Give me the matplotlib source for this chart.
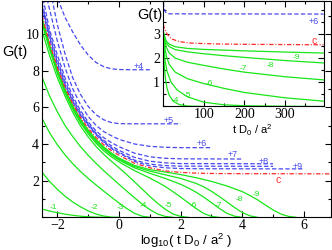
import numpy as np
import matplotlib.pyplot as plt
from matplotlib.ticker import MultipleLocator

plt.rcParams['font.family'] = ['Liberation Sans', 'DejaVu Sans']
plt.rcParams['mathtext.fontset'] = 'custom'
plt.rcParams['mathtext.rm'] = 'Liberation Sans'
plt.rcParams['mathtext.it'] = 'Liberation Sans:italic'

GREEN = '#18e618'
BLUE = '#4848f0'
RED = '#ff2a2a'

# ---- main panel: G(t) vs log10(t D0/a^2) ----
xq = [-2.5, -2.25, -2.0, -1.75, -1.5, -1.25, -1.0, -0.75, -0.5, -0.25, 0.0]

m1_x = [-2.5, -2.25, -2.0, -1.75, -1.5, -1.25, -1.0, -0.75, -0.5]
m1_g = [0.45, 0.34, 0.25, 0.17, 0.11, 0.06, 0.03, 0.01, 0.0]
m2_x = xq
m2_g = [2.46, 1.95, 1.52, 1.15, 0.83, 0.57, 0.35, 0.18, 0.07, 0.01, 0.0]
m3_x = xq + [0.25, 0.5, 0.75, 1.0]
m3_g = [5.4, 4.6, 3.95, 3.4, 2.92, 2.5, 2.12, 1.77, 1.43, 1.1, 0.78, 0.48, 0.22, 0.06, 0.0]
m4_x = xq + [0.25, 0.5, 0.75, 1.0, 1.25, 1.5, 1.75]
m4_g = [7.65, 6.6, 5.75, 5.0, 4.4, 3.85, 3.38, 2.95, 2.55, 2.17, 1.8, 1.43, 1.07, 0.72,
        0.42, 0.18, 0.05, 0.0]
m5_x = xq + [0.25, 0.5, 0.75, 1.0, 1.25, 1.5, 1.75, 2.0, 2.25]
m5_g = [10.2, 8.8, 7.6, 6.6, 5.72, 4.98, 4.38, 3.87, 3.44, 3.06, 2.7, 2.33, 1.94, 1.54,
        1.14, 0.77, 0.44, 0.18, 0.05, 0.0]
m6_x = xq + [0.5, 1.0, 1.25, 1.5, 1.75, 2.0, 2.25, 2.5, 2.75, 3.0, 3.25]
m6_g = [10.6, 9.12, 7.84, 6.77, 5.89, 5.15, 4.55, 4.05, 3.63, 3.3, 3.02, 2.55, 2.14, 1.92,
        1.68, 1.4, 1.1, 0.79, 0.48, 0.21, 0.05, 0.0]
m7_x = xq + [0.5, 1.0, 1.5, 2.0, 2.25, 2.5, 2.75, 3.0, 3.25, 3.5, 3.75, 4.0]
m7_g = [10.75, 9.25, 7.95, 6.87, 5.98, 5.24, 4.64, 4.14, 3.73, 3.4, 3.12, 2.7, 2.4, 2.12,
        1.8, 1.6, 1.37, 1.1, 0.8, 0.49, 0.22, 0.06, 0.0]
m8_x = xq + [0.5, 1.0, 1.5, 2.0, 2.5, 2.75, 3.0, 3.25, 3.5, 3.75, 4.0, 4.25, 4.5]
m8_g = [10.85, 9.33, 8.01, 6.93, 6.04, 5.3, 4.7, 4.2, 3.79, 3.46, 3.18, 2.77, 2.52, 2.32,
        2.12, 1.85, 1.66, 1.42, 1.14, 0.84, 0.53, 0.26, 0.08, 0.0]
m9_x = xq + [0.5, 1.0, 1.5, 2.0, 2.5, 3.0, 3.5, 4.0, 4.25, 4.5, 4.75, 5.0, 5.25, 5.5, 5.75]
m9_g = [10.9, 9.38, 8.06, 6.98, 6.09, 5.35, 4.75, 4.25, 3.84, 3.51, 3.23, 2.83, 2.6, 2.47,
        2.33, 2.16, 1.96, 1.71, 1.4, 1.19, 0.95, 0.67, 0.4, 0.18, 0.05, 0.0]

p4_x = [-2.1, -1.96, -1.75, -1.5, -1.25, -1.0, -0.75, -0.5, -0.25, 0.0, 0.5, 1.0]
p4_g = [12.6, 11.8, 10.9, 10.1, 9.4, 8.85, 8.45, 8.22, 8.1, 8.06, 8.05, 8.05]
p5_x = [-2.3, -2.16, -2.0, -1.75, -1.5, -1.25, -1.0, -0.75, -0.5, -0.25, 0.0, 0.5, 2.0]
p5_g = [12.8, 11.8, 10.5, 8.9, 7.6, 6.7, 6.05, 5.6, 5.32, 5.17, 5.11, 5.1, 5.1]
p6_x = [-2.45, -2.32, -2.0, -1.75, -1.5, -1.25, -1.0, -0.75, -0.5, -0.25, 0.0, 0.5, 1.0,
        1.5, 2.0, 2.97]
p6_g = [12.8, 11.8, 9.6, 8.15, 7.0, 6.15, 5.5, 5.02, 4.68, 4.45, 4.25, 4.0, 3.87, 3.82,
        3.8, 3.8]
p7_x = [-2.5, -2.45, -2.25, -2.0, -1.75, -1.5, -1.25, -1.0, -0.75, -0.5, -0.25, 0.0, 0.5,
        1.0, 1.5, 2.0, 4.0]
p7_g = [12.1, 11.8, 10.2, 8.85, 7.6, 6.6, 5.82, 5.2, 4.72, 4.35, 4.08, 3.85, 3.5, 3.3,
        3.22, 3.19, 3.18]
pb_x = xq + [0.5, 1.0, 1.5, 2.0, 5.0]
p8_g = [11.7, 10.0, 8.6, 7.4, 6.45, 5.7, 5.1, 4.6, 4.2, 3.9, 3.65, 3.27, 3.06, 2.97, 2.93, 2.92]
p8b_g = [11.55, 9.85, 8.45, 7.25, 6.35, 5.6, 5.05, 4.55, 4.13, 3.8, 3.55, 3.12, 2.9, 2.82,
         2.79, 2.78]
p9_x = xq + [0.5, 1.0, 1.5, 2.0, 2.5, 5.95]
p9_g = [11.4, 9.7, 8.3, 7.15, 6.28, 5.55, 5.0, 4.5, 4.08, 3.75, 3.5, 3.05, 2.8, 2.7, 2.66,
        2.65, 2.64]

c_x = xq + [0.5, 1.0, 1.5, 2.0, 2.5, 3.0, 4.0, 7.0]
c_g = [11.0, 9.48, 8.15, 7.07, 6.18, 5.44, 4.85, 4.36, 3.96, 3.64, 3.38, 2.95, 2.7, 2.53,
       2.45, 2.41, 2.39, 2.38, 2.37]

green_labels = ['-1', '-2', '-3', '-4', '-5', '-6', '-7', '-8', '-9']
green_lab_x = [-2.13, -0.8, 0.03, 0.8, 1.6, 2.42, 3.23, 3.92, 4.46]
green_lab_y = [0.56, 0.56, 0.56, 0.62, 0.67, 0.62, 0.62, 0.95, 1.27]
blue_labels = ['+4', '+5', '+6', '+7', '+8', '+9']
blue_lab_x = [0.64, 1.62, 2.7, 3.68, 4.7, 5.79]
blue_lab_y = [8.23, 5.28, 4.04, 3.4, 3.04, 2.77]

# ---- inset: G(t) vs t D0/a^2 (linear) ----
i4_t = [1, 3, 6, 10, 15, 25, 40, 60, 100]
i4_g = [2.6, 1.7, 1.15, 0.75, 0.48, 0.22, 0.08, 0.02, 0.0]
i5_t = [1, 2, 5, 10, 20, 35, 60, 100, 150, 200, 300, 395]
i5_g = [2.8, 2.5, 1.9, 1.45, 1.0, 0.68, 0.4, 0.18, 0.07, 0.03, 0.01, 0.0]
i_t = [1, 3, 8, 15, 30, 60, 100, 150, 200, 300, 395]
i6_g = [2.95, 2.6, 2.1, 1.75, 1.42, 1.15, 0.95, 0.75, 0.58, 0.36, 0.22]
i7_g = [3.0, 2.8, 2.45, 2.22, 2.0, 1.83, 1.7, 1.55, 1.42, 1.23, 1.1]
i8_g = [3.05, 2.9, 2.62, 2.48, 2.35, 2.26, 2.18, 2.1, 2.03, 1.9, 1.8]
i9_g = [3.1, 2.95, 2.7, 2.58, 2.47, 2.4, 2.36, 2.33, 2.3, 2.25, 2.21]
ic_t = [1, 2, 10, 20, 40, 70, 100, 150, 200, 300, 395]
ic_g = [3.4, 3.3, 3.0, 2.8, 2.68, 2.62, 2.6, 2.58, 2.57, 2.56, 2.55]
i6p_t = [1, 2, 6, 15, 395]
i6p_g = [4.3, 4.1, 3.9, 3.83, 3.82]

in_labels = ['-4', '-5', '-6', '-7', '-8', '-9']
in_lab_t = [30, 59, 113, 197, 265, 329]
in_lab_g = [0.25, 0.45, 0.96, 1.56, 1.69, 2.04]

fig = plt.figure(figsize=(3.32, 2.5), dpi=100)
ax = fig.add_axes([42 / 332, 1 - 217.3 / 250, 289 / 332, 216.3 / 250])

lw = 0.9
greens = [(m1_x, m1_g), (m2_x, m2_g), (m3_x, m3_g), (m4_x, m4_g), (m5_x, m5_g),
          (m6_x, m6_g), (m7_x, m7_g), (m8_x, m8_g), (m9_x, m9_g)]
for gx, gy in greens:
    ax.plot(gx, gy, color=GREEN, lw=lw)

blues = [(p4_x, p4_g), (p5_x, p5_g), (p6_x, p6_g), (p7_x, p7_g), (pb_x, p8_g),
         (pb_x, p8b_g), (p9_x, p9_g)]
for bx, by in blues:
    ax.plot(bx, by, color=BLUE, lw=lw, ls=(0, (3.5, 1.8)))
ax.plot(c_x, c_g, color=RED, lw=lw, ls=(0, (3.5, 1.4, 0.8, 1.4)))

for s, lx, ly in zip(green_labels, green_lab_x, green_lab_y):
    ax.text(lx, ly, s, color=GREEN, fontsize=6, ha='center', va='center')
for s, lx, ly in zip(blue_labels, blue_lab_x, blue_lab_y):
    ax.text(lx, ly, s, color=BLUE, fontsize=6.5, ha='center', va='center')
ax.text(5.16, 2.04, 'c', color=RED, fontsize=7.5, ha='center', va='center')

ax.set_xlim(-2.5, 6.88)
ax.set_ylim(0, 11.8)
ax.xaxis.set_major_locator(MultipleLocator(2))
ax.xaxis.set_minor_locator(MultipleLocator(1))
ax.set_yticks([2, 4, 6, 8, 10])
ax.yaxis.set_minor_locator(MultipleLocator(1))
ax.tick_params(which='both', direction='in', top=True, right=True, width=0.8)
ax.tick_params(which='major', length=4, pad=2)
ax.tick_params(axis='x', which='major', pad=1)
ax.tick_params(which='minor', length=2)
for lab in ax.get_xticklabels() + ax.get_yticklabels():
    lab.set_fontfamily('Liberation Serif')
    lab.set_fontsize(10)
fig.text(15 / 332, 1 - 52 / 250, 'G(t)', fontsize=10.5, ha='center', va='center')
fig.text(186 / 332, 1 - 241.3 / 250, r'log$_{10}$( t D$_0$ / a$^2$ )', fontsize=9.5,
         ha='center', va='center')

# inset
ins = fig.add_axes([163 / 332, 1 - 106.5 / 250, 160.5 / 332, 105.5 / 250])
for it, ig in [(i4_t, i4_g), (i5_t, i5_g), (i_t, i6_g), (i_t, i7_g), (i_t, i8_g), (i_t, i9_g)]:
    ins.plot(it, ig, color=GREEN, lw=lw)
ins.plot(i6p_t, i6p_g, color=BLUE, lw=lw, ls=(0, (3.5, 1.8)))
ins.plot(ic_t, ic_g, color=RED, lw=lw, ls=(0, (3.5, 1.4, 0.8, 1.4)))
for s, lx, ly in zip(in_labels, in_lab_t, in_lab_g):
    ins.text(lx, ly, s, color=GREEN, fontsize=6, ha='center', va='center')
ins.text(370, 3.52, '+6', color=BLUE, fontsize=6.5, ha='center', va='center')
ins.text(373, 2.7, 'c', color=RED, fontsize=7.5, ha='center', va='center')

ins.set_xlim(0, 395)
ins.set_ylim(0, 4.36)
ins.set_xticks([100, 200, 300])
ins.xaxis.set_minor_locator(MultipleLocator(50))
ins.set_yticks([1, 2, 3])
ins.yaxis.set_minor_locator(MultipleLocator(0.5))
ins.tick_params(which='both', direction='in', top=True, right=True, width=0.8)
ins.tick_params(which='major', length=4, pad=2)
ins.tick_params(axis='x', which='major', pad=1)
ins.tick_params(which='minor', length=2)
for lab in ins.get_xticklabels() + ins.get_yticklabels():
    lab.set_fontfamily('Liberation Serif')
    lab.set_fontsize(10)
fig.text(150 / 332, 1 - 15 / 250, 'G(t)', fontsize=10.5, ha='center', va='center')
fig.text(252 / 332, 1 - 130 / 250, r't D$_0$ / a$^2$', fontsize=8, ha='center',
         va='center')

fig.savefig('out.png', dpi=100)
